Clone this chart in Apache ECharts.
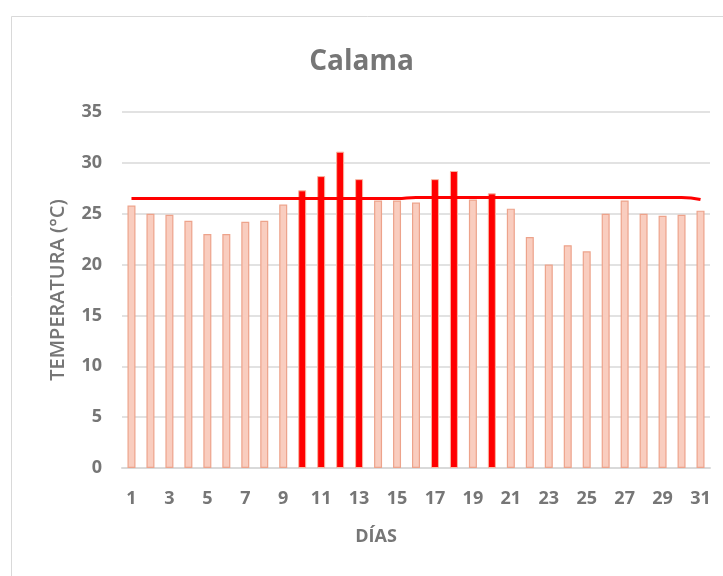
<!DOCTYPE html>
<html style="height: 100%">
<head>
    <meta charset="utf-8">
</head>
<body style="height: 100%; margin: 0">
<div id="container" style="width: 723px; height: 576px"></div>
<script type="text/javascript" src="https://cdn.jsdelivr.net/npm/echarts@6/dist/echarts.min.js"></script>
<script type="text/javascript">
    // datos
    var dias = [];
    for (var d = 1; d <= 31; d++) dias.push(String(d));
    var temperaturas = [25.8, 25.0, 24.9, 24.3, 23.0, 23.0, 24.2, 24.3, 25.9, 27.3,
        28.7, 31.1, 28.4, 26.3, 26.3, 26.1, 28.4, 29.2, 26.4, 27.0,
        25.5, 22.7, 20.0, 21.9, 21.3, 25.0, 26.3, 25.0, 24.8, 24.9, 25.3];
    var umbral = [26.5, 26.5, 26.5, 26.5, 26.5, 26.5, 26.5, 26.5, 26.5, 26.5,
        26.5, 26.5, 26.5, 26.5, 26.5, 26.6, 26.6, 26.6, 26.6, 26.6,
        26.6, 26.6, 26.6, 26.6, 26.6, 26.6, 26.6, 26.6, 26.6, 26.6, 26.4];
    var yTicks = [0, 5, 10, 15, 20, 25, 30, 35];

    var gris = '#767676';
    var fuente = '"Open Sans", sans-serif';

    var barras = temperaturas.map(function (v, i) {
        var alto = v > umbral[i];
        return {
            value: v,
            itemStyle: alto ? {color: '#ff0000', borderColor: '#f7b5a0', borderWidth: 1}
                : {color: '#f9cdbf', borderColor: '#eda38b', borderWidth: 1.2}
        };
    });

    var dom = document.getElementById("container");
    var myChart = echarts.init(dom);
    var option = {
        backgroundColor: '#ffffff',
        animation: false,
        graphic: [{
            type: 'rect',
            left: 9, top: 14,
            shape: {width: 800, height: 700},
            style: {fill: 'none', stroke: '#d9d9d9', lineWidth: 1},
            z: -1
        }],
        title: {
            text: 'Calama',
            left: 'center',
            top: 48,
            padding: 0,
            textStyle: {color: gris, fontSize: 28, fontWeight: 'bold', fontFamily: fuente}
        },
        grid: {left: 122, right: 13, top: 112, bottom: 108},
        xAxis: {
            type: 'category',
            data: dias,
            name: 'DÍAS',
            nameLocation: 'middle',
            nameGap: 60,
            nameTextStyle: {color: gris, fontSize: 18, fontWeight: 'bold', fontFamily: fuente, padding: [0, 80, 0, 0]},
            axisLine: {lineStyle: {color: '#d9d9d9', width: 2}},
            axisTick: {show: false},
            axisLabel: {interval: 1, color: gris, fontSize: 18, fontWeight: 'bold', fontFamily: fuente, margin: 22}
        },
        yAxis: {
            type: 'value',
            min: yTicks[0],
            max: yTicks[yTicks.length - 1],
            interval: 5,
            name: 'TEMPERATURA (°C)',
            nameLocation: 'middle',
            nameGap: 54,
            nameTextStyle: {color: gris, fontSize: 20, fontWeight: 600, fontFamily: fuente},
            axisLine: {show: false},
            axisTick: {show: false},
            axisLabel: {color: gris, fontSize: 18, fontWeight: 'bold', fontFamily: fuente, margin: 20},
            splitLine: {lineStyle: {color: '#d9d9d9', width: 1.5}}
        },
        series: [
            {
                name: 'Temperatura',
                type: 'bar',
                data: barras,
                barWidth: 8
            },
            {
                name: 'Umbral',
                type: 'line',
                data: umbral,
                smooth: true,
                symbol: 'none',
                lineStyle: {color: '#ff0000', width: 3},
                z: 3
            }
        ]
    };
    myChart.setOption(option, true);
</script>
</body>
</html>
